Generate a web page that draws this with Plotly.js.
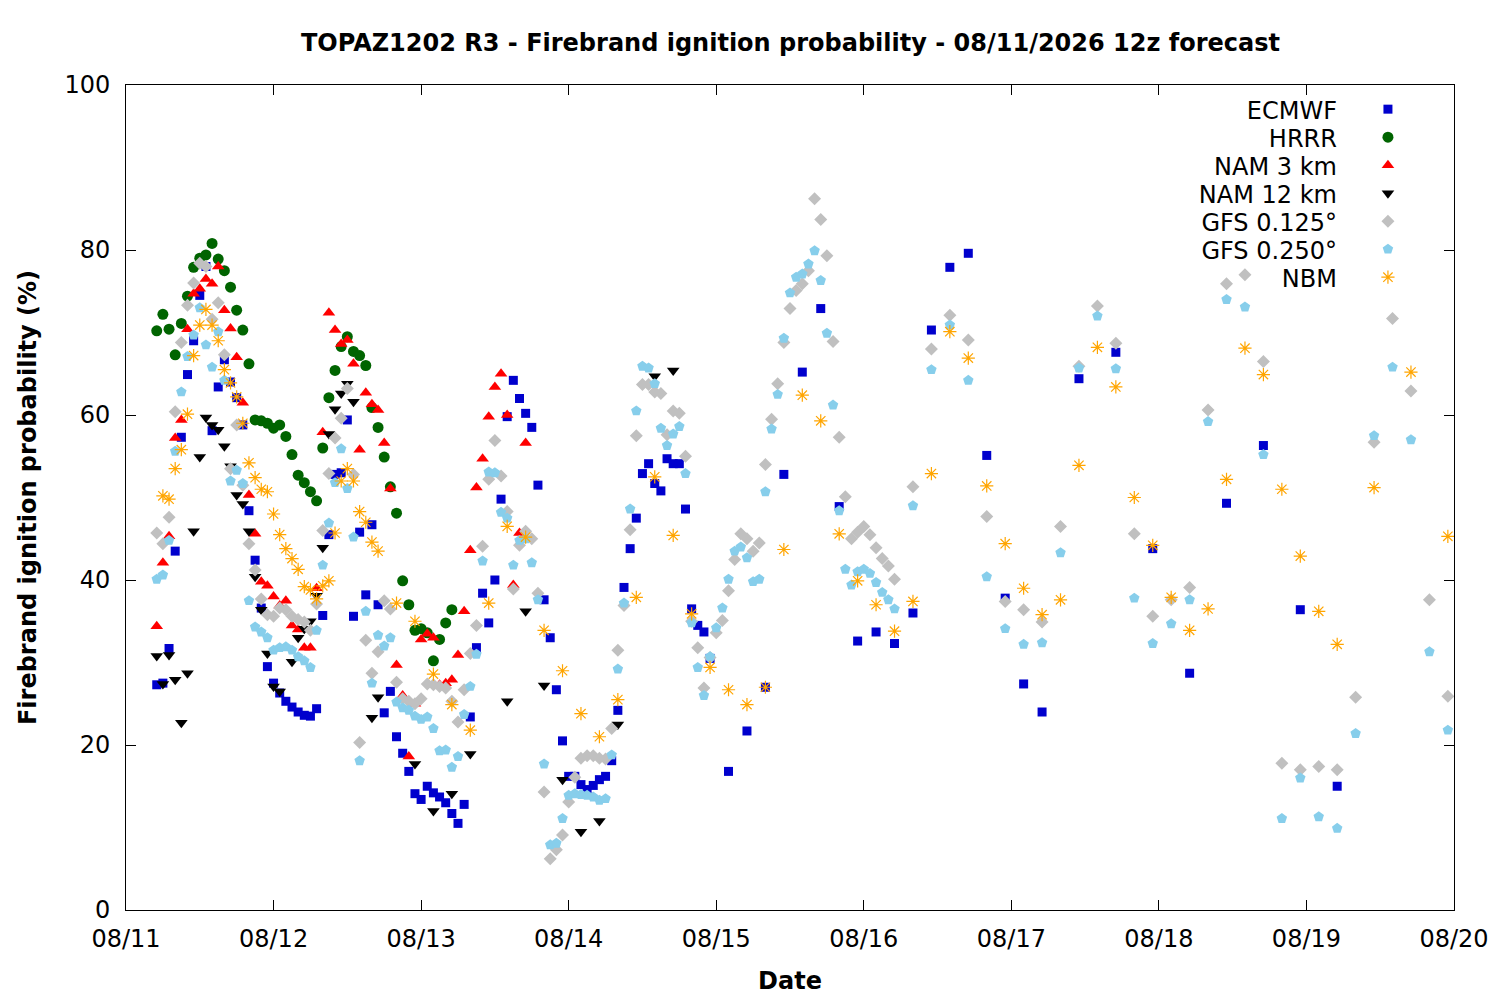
<!DOCTYPE html>
<html>
<head>
<meta charset="utf-8">
<script src="https://cdn.plot.ly/plotly-3.0.1.min.js"></script>
<style>
  body { margin: 0; background: #fff; }
  #chart { width: 1500px; height: 1000px; }
</style>
</head>
<body>
<div id="chart"></div>
<script>
// forecast steps, in hours after 08/11 00:00 local (12z run = hour 5)
function span(a, b, step) {
    var out = []
    for (var h = a; h <= b; h += step) out.push(h)
    return out
}

var ecmwf_hours = span(5, 95, 1).concat(span(98, 149, 3), span(155, 197, 6))
var ecmwf_vals = [
    27.3, 27.5, 31.7, 43.5, 57.3, 64.9, 69.0, 74.5, 78.0, 58.1,
    63.4, 66.7, 64.0, 62.1, 58.8, 48.4, 42.4, 36.6, 29.5, 27.5,
    26.3, 25.3, 24.6, 24.0, 23.6, 23.5, 24.4, 35.7, 45.5, 52.8,
    53.0, 59.4, 35.6, 45.8, 38.2, 46.7, 37.0, 23.9, 26.5, 21.0,
    19.0, 16.8, 14.1, 13.4, 15.0, 14.2, 13.7, 13.0, 11.7, 10.5,
    12.8, 23.4, 31.8, 38.4, 34.8, 40.0, 49.8, 59.8, 64.2, 62.0,
    60.2, 58.5, 51.5, 37.6, 33.0, 26.7, 20.5, 16.2, 16.2, 15.2,
    14.6, 15.1, 15.8, 16.2, 18.1, 24.2, 39.1, 43.8, 47.5, 52.9,
    54.1, 51.7, 50.8, 54.7, 54.1, 54.1, 48.6, 36.5, 34.5, 33.7, 30.5,
    16.8, 21.7, 27.0, 52.8, 65.2, 72.9, 48.9, 32.6, 33.7, 32.3,
    36.0, 70.3, 77.9, 79.6, 55.1, 37.8, 27.4, 24.0,
    64.4, 67.6, 43.8, 28.7, 49.3, 56.3, 36.4, 15.0
]

var hrrr_hours = span(5, 53, 1)
var hrrr_vals = [
    70.2, 72.2, 70.4, 67.3, 71.1, 74.4, 77.9, 79.0, 79.4, 80.8,
    78.9, 77.5, 75.5, 72.7, 70.3, 66.2, 59.4, 59.3, 59.0, 58.4,
    58.8, 57.4, 55.2, 52.7, 51.8, 50.7, 49.6, 56.0, 62.1, 65.4,
    68.3, 69.5, 67.7, 67.2, 66.0, 60.9, 58.5, 54.9, 51.3, 48.1,
    39.9, 37.0, 33.9, 34.1, 33.6, 30.2, 32.8, 34.8, 36.4
]

var nam3_hours = span(5, 65, 1)
var nam3_vals = [
    34.4, 42.1, 45.3, 57.2, 59.4, 70.4, 74.7, 75.3, 76.5, 75.9,
    78.0, 72.7, 70.5, 67.0, 61.5, 50.3, 45.6, 39.8, 39.3, 38.0,
    36.9, 37.5, 34.5, 34.0, 31.8, 31.8, 39.0, 57.9, 72.4, 70.3,
    68.6, 69.1, 66.2, 55.8, 62.7, 61.3, 60.6, 56.6, 51.1, 29.7,
    26.0, 18.6, 25.0, 32.8, 33.5, 33.0, 27.3, 27.5, 27.9, 30.9,
    36.2, 43.6, 51.2, 54.7, 59.8, 63.4, 65.0, 60.0, 39.4, 45.7, 56.6
]

var nam12_hours = [5, 6, 7, 8, 9, 10, 11, 12, 13, 14, 15, 16, 17, 18, 19, 20, 21, 22, 23, 24, 25,
    27, 28, 29, 30, 31, 32, 33, 34, 35, 36, 37, 40, 41, 47, 50, 53, 56,
    62, 65, 68, 71, 74, 77, 80, 86, 89]
var nam12_vals = [
    30.8, 27.4, 30.9, 27.9, 22.7, 28.7, 45.9, 54.9, 59.7, 58.8,
    58.2, 56.2, 53.8, 50.3, 49.2, 45.9, 40.4, 36.4, 31.1, 27.1, 26.5,
    30.1, 33.0, 34.1, 35.0, 38.1, 43.9, 57.7, 60.7, 62.6, 63.8, 61.6,
    23.3, 25.8, 17.7, 12.0, 14.1, 18.9,
    25.3, 36.2, 27.2, 15.8, 9.5, 10.8, 22.5, 64.7, 65.4
]

var gfs125_hours = span(5, 125, 1).concat(span(128, 215, 3))
var gfs125_vals = [
    45.7, 44.4, 47.6, 60.4, 68.8, 73.3, 76.0, 78.4, 78.0, 71.6,
    73.6, 67.3, 53.5, 58.8, 51.5, 44.4, 41.2, 37.7, 35.8, 35.6,
    36.6, 36.4, 35.6, 35.2, 34.9, 33.9, 37.1, 46.0, 52.9, 57.2,
    59.6, 63.2, 52.8, 20.3, 32.7, 28.7, 31.3, 37.5, 36.5, 27.6,
    25.6, 25.3, 25.0, 25.6, 27.4, 27.3, 27.1, 26.9, 25.3, 22.8,
    26.7, 31.1, 34.5, 44.1, 52.2, 56.9, 52.6, 48.3, 38.9, 44.2,
    45.9, 45.0, 38.4, 14.3, 6.2, 7.3, 9.1, 13.1, 16.1, 18.4,
    18.7, 18.7, 18.4, 18.3, 22.0, 31.5, 36.9, 46.1, 57.5, 63.7,
    63.7, 62.8, 62.6, 57.6, 60.5, 60.2, 55.0, 35.0, 31.8, 26.9,
    30.6, 33.6, 35.1, 38.7, 42.5, 45.6, 45.0, 43.5, 44.5, 54.0,
    59.5, 63.8, 68.8, 72.9, 75.1, 75.9, 77.5, 86.2, 83.7, 79.3,
    68.9, 57.3, 50.1, 45.0, 45.8, 46.5, 45.5, 43.9, 42.6, 41.7,
    40.1,
    51.3, 68.0, 72.1, 69.1, 47.7, 37.4, 36.4, 34.9, 46.5, 65.9,
    73.2, 68.7, 45.6, 35.6, 37.6, 39.1, 60.6, 75.9, 77.0, 66.5,
    17.8, 17.0, 17.4, 17.0, 25.8, 56.7, 71.7, 62.9, 37.6, 25.9
]

var gfs250_hours = span(5, 125, 1).concat(span(128, 215, 3))
var gfs250_vals = [
    40.1, 40.6, 44.8, 55.6, 62.8, 67.1, 69.7, 73.0, 68.5, 65.8,
    70.1, 64.2, 52.0, 53.3, 51.7, 37.5, 34.3, 33.7, 33.0, 31.5,
    31.8, 31.9, 31.5, 30.7, 30.2, 29.4, 33.9, 41.8, 46.9, 51.8,
    55.9, 51.1, 45.2, 18.1, 36.2, 27.5, 33.3, 32.0, 33.0, 25.2,
    24.5, 24.2, 23.5, 23.1, 23.4, 22.0, 19.3, 19.4, 17.3, 18.6,
    23.7, 27.1, 31.0, 42.3, 53.1, 53.0, 48.2, 47.5, 41.8, 44.8,
    45.0, 42.1, 37.6, 17.7, 7.9, 8.1, 11.1, 13.9, 14.1, 14.0,
    13.9, 13.7, 13.3, 13.5, 18.8, 29.2, 37.2, 48.6, 60.5, 65.9,
    65.7, 63.8, 58.4, 56.3, 57.7, 58.6, 52.9, 34.8, 29.4, 26.0,
    30.7, 34.2, 36.6, 40.1, 43.5, 44.0, 42.7, 39.8, 40.1, 50.7,
    58.3, 62.5, 69.3, 74.8, 76.7, 77.1, 78.3, 79.9, 76.3, 69.9,
    61.2, 48.4, 41.3, 39.4, 41.0, 41.3, 40.8, 39.7, 38.5, 37.6,
    36.5,
    49.0, 65.5, 70.9, 64.2, 40.4, 34.1, 32.2, 32.4, 43.3, 65.7,
    72.0, 65.6, 37.8, 32.3, 34.7, 37.6, 59.2, 74.0, 73.1, 55.2,
    11.1, 16.0, 11.3, 9.9, 21.4, 57.5, 65.8, 57.0, 31.3, 21.8
]

var nbm_hours = span(6, 41, 1).concat(span(44, 197, 3), [203, 209, 215])
var nbm_vals = [
    50.2, 49.8, 53.5, 55.8, 60.1, 67.2, 70.9, 72.8, 70.9, 69.0,
    65.5, 63.9, 62.2, 59.0, 54.2, 52.4, 51.0, 50.7, 48.0, 45.5,
    43.8, 42.6, 41.3, 39.2, 38.8, 37.7, 39.3, 39.9, 45.7, 52.0,
    53.5, 52.0, 48.3, 47.0, 44.6, 43.5,
    37.2, 35.0, 28.6, 24.9, 21.8, 37.2, 46.5, 45.2, 33.9, 29.0,
    23.8, 21.0, 25.5, 37.9, 52.5, 45.4, 35.9, 29.4, 26.7, 24.9,
    27.0, 43.7, 62.4, 59.3, 45.6, 39.9, 37.0, 33.8, 37.4, 52.9,
    70.1, 66.9, 51.4, 44.4, 39.0, 35.8, 37.6, 53.9, 68.2, 63.4,
    50.0, 44.2, 37.9, 33.9, 36.5, 52.2, 68.1, 64.9, 51.0, 42.9,
    36.2, 32.2,
    51.2, 65.2, 45.3
]

var tick_days = ['2026-08-11', '2026-08-12', '2026-08-13', '2026-08-14', '2026-08-15',
    '2026-08-16', '2026-08-17', '2026-08-18', '2026-08-19', '2026-08-20']
var tick_labels = ['08/11', '08/12', '08/13', '08/14', '08/15', '08/16', '08/17', '08/18', '08/19', '08/20']

function pad2(n) { return (n < 10 ? '0' : '') + n }
function to_date(h) {
    return '2026-08-' + pad2(11 + Math.floor(h / 24)) + ' ' + pad2(h % 24) + ':00'
}

function series(name, hours, vals, symbol, color, size, extra) {
    var m = {symbol: symbol, color: color, size: size, line: {width: 0}}
    if (extra) m.line = extra
    return {
        type: 'scatter',
        mode: 'markers',
        name: name,
        x: hours.map(to_date),
        y: vals,
        marker: m,
        cliponaxis: true,
    }
}

var data = [
    series('ECMWF', ecmwf_hours, ecmwf_vals, 'square', '#0000cd', 9),
    series('HRRR', hrrr_hours, hrrr_vals, 'circle', '#006400', 11),
    series('NAM 3 km', nam3_hours, nam3_vals, 'triangle-up', '#ff0000', 11),
    series('NAM 12 km', nam12_hours, nam12_vals, 'triangle-down', '#000000', 11),
    series('GFS 0.125°', gfs125_hours, gfs125_vals, 'diamond', '#c0c0c0', 10),
    series('GFS 0.250°', gfs250_hours, gfs250_vals, 'pentagon', '#87ceeb', 11),
    series('NBM', nbm_hours, nbm_vals, 'asterisk-open', '#ffa500', 11, {width: 1.2, color: '#ffa500'}),
]

var font_name = 'DejaVu Sans, sans-serif'
var axis_font = {family: font_name, size: 24, color: '#000'}

var layout = {
    width: 1500,
    height: 1000,
    margin: {l: 126, r: 46, t: 85, b: 90, pad: 0, autoexpand: false},
    paper_bgcolor: '#fff',
    plot_bgcolor: '#fff',
    font: axis_font,
    showlegend: true,
    title: {
        text: '<b>TOPAZ1202 R3 - Firebrand ignition probability - 08/11/2026 12z forecast</b>',
        font: {family: font_name, size: 24, color: '#000'},
        x: 0.527,
        xanchor: 'center',
        y: 0.957,
        yanchor: 'middle',
    },
    xaxis: {
        type: 'date',
        range: ['2026-08-11', '2026-08-20'],
        tickvals: tick_days,
        ticktext: tick_labels,
        ticks: 'inside',
        ticklen: 10,
        tickcolor: '#000',
        showline: true,
        linecolor: '#000',
        linewidth: 1,
        mirror: 'ticks',
        showgrid: false,
        zeroline: false,
        tickfont: axis_font,
        ticklabelstandoff: 7,
        automargin: false,
        title: {text: '<b>Date</b>', font: {family: font_name, size: 24}, standoff: 20},
    },
    yaxis: {
        range: [0, 100],
        tickvals: [0, 20, 40, 60, 80, 100],
        ticks: 'inside',
        ticklen: 10,
        tickcolor: '#000',
        showline: true,
        linecolor: '#000',
        linewidth: 1,
        mirror: 'ticks',
        showgrid: false,
        zeroline: false,
        tickfont: axis_font,
        ticklabelstandoff: 10,
        automargin: false,
        title: {text: '<b>Firebrand ignition probability (%)</b>', font: {family: font_name, size: 24}, standoff: 20},
    },
    legend: {
        x: 0.9352,
        xanchor: 'left',
        y: 0.9975,
        yanchor: 'top',
        bgcolor: 'rgba(0,0,0,0)',
        borderwidth: 0,
        font: {family: font_name, size: 24, color: '#000'},
        tracegroupgap: 0,
        itemsizing: 'trace',
    },
}

Plotly.newPlot('chart', data, layout, {displayModeBar: false, staticPlot: true})
    .then(function (gd) {
        // gnuplot style key: text right-aligned to the left of the symbol, rows 28px apart
        var sb = gd.querySelector('.legend .scrollbox')
        if (sb) sb.removeAttribute('clip-path')
        var lg = gd.querySelector('.legend')
        if (lg) lg.removeAttribute('clip-path')
        var items = gd.querySelectorAll('.legend .traces')
        var y0 = null
        items.forEach(function (g, i) {
            var t = g.querySelector('.legendtext')
            t.setAttribute('text-anchor', 'end')
            t.setAttribute('x', -31)
            var m = /translate\(([-\d.]+)[ ,]+([-\d.]+)\)/.exec(g.getAttribute('transform') || '')
            if (m) {
                if (y0 === null) y0 = parseFloat(m[2])
                g.setAttribute('transform', 'translate(' + m[1] + ',' + (y0 + 28 * i) + ')')
            }
        })
    })
</script>
</body>
</html>
